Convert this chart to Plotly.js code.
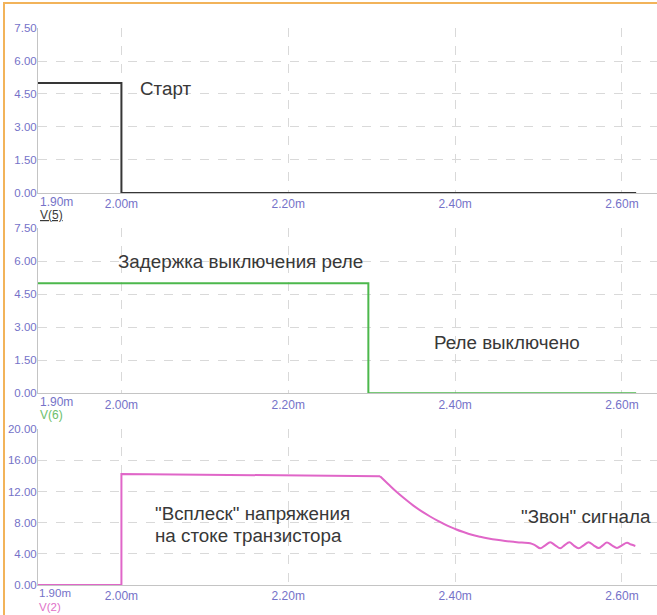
<!DOCTYPE html>
<html>
<head>
<meta charset="utf-8">
<script src="https://cdn.plot.ly/plotly-3.0.1.min.js"></script>
<style>
  html, body { margin: 0; padding: 0; background: #ffffff; }
  #wrap { position: relative; width: 657px; height: 615px; }
  #chart { width: 657px; height: 615px; }
  #frame { position: absolute; left: 3px; top: 2px; right: -10px; bottom: -10px;
           border-left: 2px solid #f2b35a; border-top: 2px solid #f2b35a; pointer-events: none; }
</style>
</head>
<body>
<div id="wrap">
  <div id="chart"></div>
  <div id="frame"></div>
</div>
<script>
// Time in milliseconds
const t5 = [1.90, 2.00, 2.00, 2.617];
const v5 = [5.0, 5.0, 0.0, 0.0];

const t6 = [1.90, 2.296, 2.296, 2.617];
const v6 = [5.0, 5.0, 0.0, 0.0];

// V(2): step and plateau
const t2step = [1.90, 2.00, 2.00, 2.10, 2.20, 2.310];
const v2step = [0.0, 0.0, 14.27, 14.18, 14.08, 13.97];
// V(2): decay and ringing
const t2ring = [2.310, 2.32, 2.33, 2.34, 2.35, 2.36, 2.37, 2.38, 2.39, 2.40, 2.41, 2.42, 2.43, 2.44, 2.45,
                2.46, 2.47, 2.48, 2.490, 2.496, 2.502, 2.508, 2.514, 2.520, 2.526, 2.531, 2.537, 2.542, 2.548,
                2.554, 2.560, 2.566, 2.572, 2.577, 2.582, 2.588, 2.594, 2.600, 2.606, 2.611, 2.616];
const v2ring = [13.97, 12.95, 11.95, 11.05, 10.20, 9.45, 8.80, 8.20, 7.65, 7.20, 6.80, 6.45, 6.20, 5.98, 5.80,
                5.66, 5.55, 5.45, 5.37, 5.10, 4.72, 5.10, 5.48, 5.10, 4.72, 5.10, 5.48, 5.10, 4.72,
                5.10, 5.48, 5.10, 4.74, 5.10, 5.46, 5.10, 4.76, 5.10, 5.42, 5.20, 5.02];

const xTickVals = [2.00, 2.20, 2.40, 2.60];
const xTickText = ["2.00m", "2.20m", "2.40m", "2.60m"];
const yTicks1 = [0, 1.5, 3, 4.5, 6, 7.5];
const yTicks3 = [0, 4, 8, 12, 16, 20];

const tickColor = '#7572c8';
const gridColor = '#d9d9d9';
const lineColor = '#c4c4c4';
const textColor = '#383838';
const FONT = 'Liberation Sans, Arial, sans-serif';
const TXT = 18.8;

const traces = [
  {x: t5, y: v5, xaxis: 'x', yaxis: 'y', mode: 'lines', line: {color: '#363636', width: 2}, hoverinfo: 'skip'},
  {x: t6, y: v6, xaxis: 'x2', yaxis: 'y2', mode: 'lines', line: {color: '#4cb84c', width: 2}, hoverinfo: 'skip'},
  {x: t2step, y: v2step, xaxis: 'x3', yaxis: 'y3', mode: 'lines', line: {color: '#e066c8', width: 2}, hoverinfo: 'skip'},
  {x: t2ring, y: v2ring, xaxis: 'x3', yaxis: 'y3', mode: 'lines', line: {color: '#e066c8', width: 2, shape: 'spline', smoothing: 1}, hoverinfo: 'skip'}
];

function xax(anchor) {
  return {
    anchor: anchor, domain: [0, 1], range: [1.90, 2.642],
    tickmode: 'array', tickvals: xTickVals, ticktext: xTickText,
    ticks: '', showgrid: true, gridcolor: gridColor, griddash: 'dash', gridwidth: 1,
    showline: true, linecolor: lineColor, linewidth: 1, zeroline: false,
    tickfont: {family: FONT, size: 12, color: tickColor}, fixedrange: true
  };
}
function yax(anchor, domain, range, ticks) {
  return {
    anchor: anchor, domain: domain, range: range,
    tickmode: 'array', tickvals: ticks, tickformat: '.2f',
    ticks: '', showgrid: true, gridcolor: gridColor, griddash: 'dash', gridwidth: 1,
    showline: true, linecolor: lineColor, linewidth: 1, zeroline: false,
    ticklabelstandoff: -2,
    tickfont: {family: FONT, size: 11.5, color: tickColor}, fixedrange: true
  };
}

const layout = {
  width: 657, height: 615,
  margin: {l: 38, r: 0, t: 28, b: 30},
  paper_bgcolor: '#ffffff', plot_bgcolor: '#ffffff',
  showlegend: false,
  font: {family: FONT},
  xaxis: xax('y'), xaxis2: xax('y2'), xaxis3: xax('y3'),
  yaxis: yax('x', [0.7038, 1.0], [0, 7.5], yTicks1),
  yaxis2: yax('x2', [0.3442, 0.6404], [0, 7.5], yTicks1),
  yaxis3: yax('x3', [0.0, 0.2795], [0, 20], yTicks3),
  annotations: [
    {xref: 'x', yref: 'y', x: 2.020, y: 4.77, xanchor: 'left', yanchor: 'middle', showarrow: false,
     text: 'Старт', font: {family: FONT, size: TXT, color: textColor}},
    {xref: 'x2', yref: 'y2', x: 1.994, y: 6.01, xanchor: 'left', yanchor: 'middle', showarrow: false,
     text: 'Задержка выключения реле', font: {family: FONT, size: TXT, color: textColor}},
    {xref: 'x2', yref: 'y2', x: 2.372, y: 2.29, xanchor: 'left', yanchor: 'middle', showarrow: false,
     text: 'Реле выключено', font: {family: FONT, size: TXT, color: textColor}},
    {xref: 'x3', yref: 'y3', x: 2.038, y: 9.2, xanchor: 'left', yanchor: 'middle', showarrow: false,
     text: '"Всплеск" напряжения', font: {family: FONT, size: TXT, color: textColor}},
    {xref: 'x3', yref: 'y3', x: 2.038, y: 6.42, xanchor: 'left', yanchor: 'middle', showarrow: false,
     text: 'на стоке транзистора', font: {family: FONT, size: TXT, color: textColor}},
    {xref: 'x3', yref: 'y3', x: 2.476, y: 8.82, xanchor: 'left', yanchor: 'middle', showarrow: false,
     text: '"Звон" сигнала', font: {family: FONT, size: TXT, color: textColor}},

    {xref: 'x', yref: 'paper', x: 1.90, y: 0.6876, xanchor: 'left', yanchor: 'middle', showarrow: false,
     text: '1.90m', font: {family: FONT, size: 12, color: tickColor}},
    {xref: 'x2', yref: 'paper', x: 1.90, y: 0.3285, xanchor: 'left', yanchor: 'middle', showarrow: false,
     text: '1.90m', font: {family: FONT, size: 12, color: tickColor}},
    {xref: 'x3', yref: 'paper', x: 1.90, y: -0.0018, xanchor: 'left', yanchor: 'top', borderpad: 0, showarrow: false,
     text: '1.90m', font: {family: FONT, size: 11.5, color: tickColor}},

    {xref: 'paper', yref: 'paper', x: 0, y: 0.664, xanchor: 'left', yanchor: 'middle', showarrow: false,
     text: '<u>V(5)</u>', font: {family: FONT, size: 12, color: '#3a3a3a'}},
    {xref: 'paper', yref: 'paper', x: 0, y: 0.3052, xanchor: 'left', yanchor: 'middle', showarrow: false,
     text: 'V(6)', font: {family: FONT, size: 12, color: '#6cc06c'}},
    {xref: 'paper', yref: 'paper', x: 0, y: -0.0521, xanchor: 'left', yanchor: 'bottom', borderpad: 0, showarrow: false,
     text: 'V(2)', font: {family: FONT, size: 11.5, color: '#e070c8'}}
  ]
};

Plotly.newPlot('chart', traces, layout, {displayModeBar: false, staticPlot: true});
</script>
</body>
</html>
